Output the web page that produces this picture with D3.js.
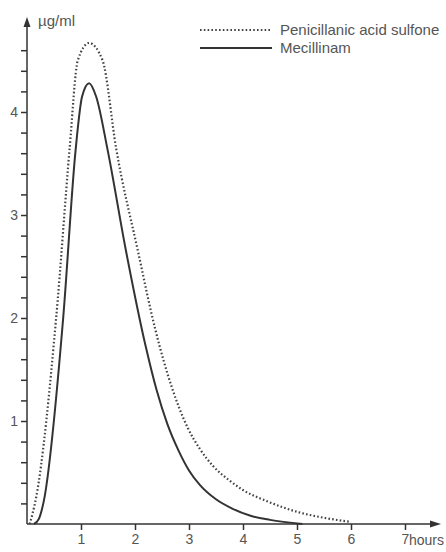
<!DOCTYPE html>
<html lang="en">
<head>
    <meta charset="UTF-8">
    <title>Mecillinam and penicillanic acid sulfone</title>
    <style>
        body { margin:0; background:#fff; }
        text { font-family: 'Liberation Sans', Arial, sans-serif; fill:#555; }
        .axis path, .axis line { stroke:#333; stroke-width:1.5px; }
        .axis text { font-size:14px; fill:#555; }
        .sulfone { fill:none; stroke:#444; stroke-width:2.2px; stroke-dasharray:1.6,2.2; }
        .mecillinam { fill:none; stroke:#333; stroke-width:2px; }
    </style>
    <script src="https://d3js.org/d3.v7.min.js"></script>
</head>
<body>

<script>

var window_width = 446;
var window_height = 552;

// hours after dose, concentration in ug/ml
var sulfone_t = [0.05, 0.17, 0.54, 0.79, 0.94, 1.15, 1.40, 1.65, 2.05, 2.38, 2.68, 2.98, 3.2, 3.45, 3.73, 4.0, 4.45, 5.06, 5.4, 6.0];
var sulfone_v = [0, 0.26, 2.0, 3.65, 4.5, 4.67, 4.5, 3.65, 2.66, 1.88, 1.33, 0.93, 0.73, 0.56, 0.43, 0.33, 0.22, 0.11, 0.07, 0.02];

var mec_t = [0.13, 0.22, 0.31, 0.67, 0.90, 1.02, 1.15, 1.28, 1.49, 1.83, 2.2, 2.4, 2.6, 2.8, 3.0, 3.2, 3.5, 3.8, 4.14, 4.5, 5.1];
var mec_v = [0, 0.05, 0.22, 2.0, 3.63, 4.15, 4.28, 4.15, 3.64, 2.66, 1.72, 1.30, 0.97, 0.72, 0.52, 0.38, 0.24, 0.15, 0.08, 0.04, 0];

var x_ticks = [1, 2, 3, 4, 5, 6, 7];
var y_ticks = [0.2, 0.4, 0.6, 0.8, 1, 1.2, 1.4, 1.6, 1.8, 2, 2.2, 2.4, 2.6, 2.8, 3, 3.2, 3.4, 3.6, 3.8, 4, 4.2, 4.4, 4.6];
var y_labels = [1, 2, 3, 4];

var legend_names = ["Penicillanic acid sulfone", "Mecillinam"];

var svg = d3.select("body").append("svg").attr("width", window_width).attr("height", window_height);

var xScale = d3.scaleLinear().domain([0, 7]).range([27, 405]);
var yScale = d3.scaleLinear().domain([0, 4]).range([524, 112]);

// y axis
var yAxis = d3.axisLeft(yScale).tickValues(y_ticks).tickSize(6).tickPadding(3)
    .tickFormat(function(d){ return y_labels.indexOf(Math.round(d*10)/10) >= 0 ? d3.format("d")(d) : ""; });
svg.append("g").attr("class", "axis").attr("transform", "translate(" + xScale(0) + ",0)").call(yAxis)
   .select(".domain").remove();
svg.append("line").attr("x1", xScale(0)).attr("x2", xScale(0)).attr("y1", yScale(0)).attr("y2", 24)
   .attr("stroke", "#333").attr("stroke-width", 1.5);
svg.append("path").attr("d", "M" + xScale(0) + ",17l-3.5,10h7z").attr("fill", "#333");

// x axis
var xAxis = d3.axisBottom(xScale).tickValues(x_ticks).tickSize(6).tickPadding(4).tickFormat(d3.format("d"));
svg.append("g").attr("class", "axis").attr("transform", "translate(0," + yScale(0) + ")").call(xAxis)
   .select(".domain").remove();
svg.append("line").attr("x1", xScale(0)).attr("x2", 434).attr("y1", yScale(0)).attr("y2", yScale(0))
   .attr("stroke", "#333").attr("stroke-width", 1.5);
svg.append("path").attr("d", "M441," + yScale(0) + "l-11,-3.5v7z").attr("fill", "#333");

svg.append("text").attr("x", xScale(7) + 4).attr("y", yScale(0) + 20.5).style("font-size", "14px").text("hours");
svg.append("text").attr("x", 38).attr("y", 26).style("font-size", "15px").text("\u00b5g/ml");

// curves
var line = d3.line().x(function(d){ return xScale(d[0]); }).y(function(d){ return yScale(d[1]); })
    .curve(d3.curveMonotoneX);

svg.append("path").attr("class", "sulfone").attr("d", line(d3.zip(sulfone_t, sulfone_v)));
svg.append("path").attr("class", "mecillinam").attr("d", line(d3.zip(mec_t, mec_v)));

// legend
var legend = svg.append("g").attr("transform", "translate(200,30)");
legend.append("line").attr("class", "sulfone").attr("x1", 0).attr("x2", 72).attr("y1", 0).attr("y2", 0);
legend.append("line").attr("class", "mecillinam").attr("x1", 0).attr("x2", 72).attr("y1", 18).attr("y2", 18);
legend.selectAll("text.lg").data(legend_names).enter().append("text").attr("class", "lg")
    .attr("x", 80).attr("y", function(d, i){ return i * 18 + 5; })
    .style("font-size", "15px").text(function(d){ return d; });

</script>

</body>
</html>
